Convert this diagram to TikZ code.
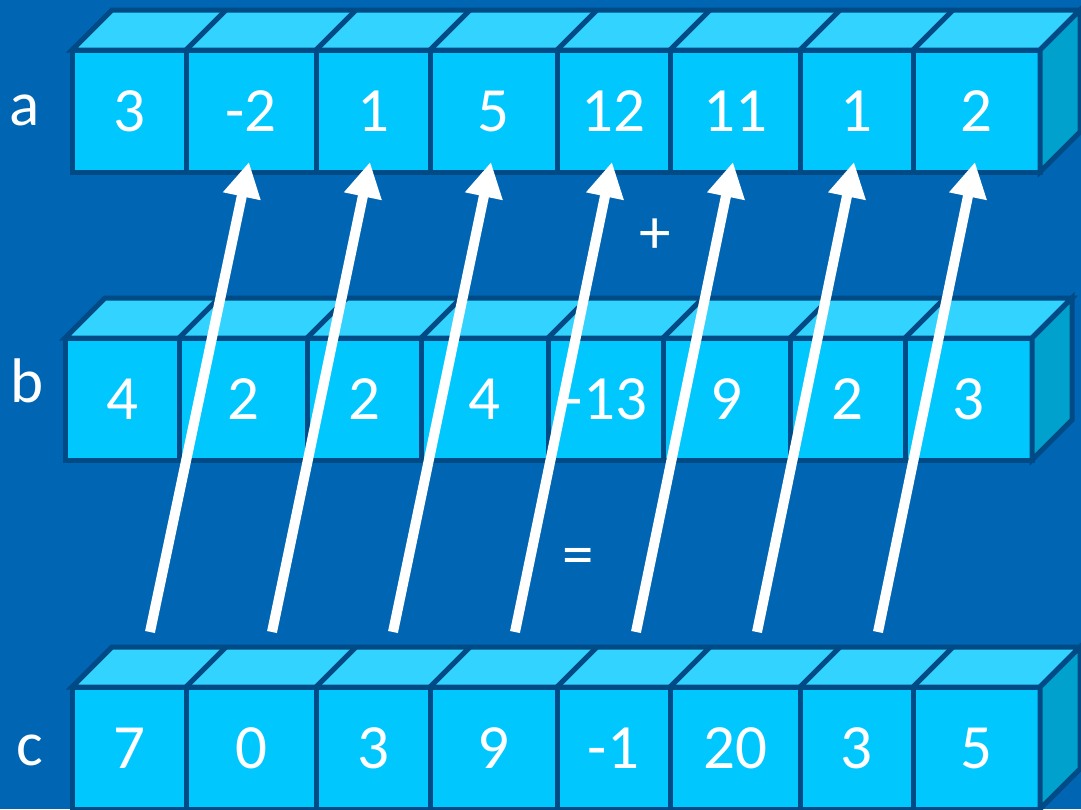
\documentclass[tikz,border=0pt]{standalone}
\usepackage{fontspec}
\setmainfont{Carlito}
\usetikzlibrary{arrows.meta,calc}
\definecolor{bg}{RGB}{0,102,179}
\definecolor{frontc}{RGB}{0,200,255}
\definecolor{topc}{RGB}{51,211,255}
\definecolor{sidec}{RGB}{0,161,204}
\definecolor{edgec}{RGB}{0,75,133}
\tikzset{
  cell/.style={draw=edgec, fill=frontc, line width=5pt, inner sep=0pt, outer sep=0pt,
    minimum height=122pt, text=white, font=\fontsize{63}{70}\selectfont, text depth=0pt},
  topface/.style={draw=edgec, fill=topc, line width=5pt, line join=miter},
  sideface/.style={draw=edgec, fill=sidec, line width=5pt, line join=miter},
  divline/.style={draw=edgec, line width=5pt},
  lbl/.style={text=white, font=\fontsize{63}{70}\selectfont, inner sep=0pt, anchor=base},
  arr/.style={draw=white, line width=10pt, -{Triangle[length=35pt,width=36pt]}},
}
\begin{document}
\begin{tikzpicture}[x=1pt,y=-1pt]
\useasboundingbox (0,0) rectangle (1081,809);
\fill[bg] (0,0) rectangle (1081,809);
% row a
\foreach \i/\xl/\xr/\v in {1/72/186/3,2/186/316/-2,3/316/430/1,4/430/557/5,5/557/670/12,6/670/800/11,7/800/913/1,8/913/1040/2}
  \node[cell, minimum width={\xr-\xl}] (a\i) at ({(\xl+\xr)/2},111) {\v};
\draw[topface] (a1.north west) -- ++(40,-40) -- ($(a8.north east)+(40,-40)$) -- (a8.north east) -- cycle;
\draw[sideface] (a8.north east) -- ++(40,-40) -- ++(0,122) -- (a8.south east) -- cycle;
\foreach \i in {1,...,7} \draw[divline] (a\i.north east) -- ++(40,-40);
% row b
\foreach \i/\xl/\xr/\v in {1/65/179/4,2/179/307/2,3/307/421/2,4/421/548/4,5/548/663/-13,6/663/790/9,7/790/905/2,8/905/1032/3}
  \node[cell, minimum width={\xr-\xl}] (b\i) at ({(\xl+\xr)/2},399) {\v};
\draw[topface] (b1.north west) -- ++(40,-40) -- ($(b8.north east)+(40,-40)$) -- (b8.north east) -- cycle;
\draw[sideface] (b8.north east) -- ++(40,-40) -- ++(0,122) -- (b8.south east) -- cycle;
\foreach \i in {1,...,7} \draw[divline] (b\i.north east) -- ++(40,-40);
% row c
\foreach \i/\xl/\xr/\v in {1/72/186/7,2/186/316/0,3/316/430/3,4/430/557/9,5/557/670/-1,6/670/800/20,7/800/913/3,8/913/1040/5}
  \node[cell, minimum width={\xr-\xl}] (c\i) at ({(\xl+\xr)/2},748) {\v};
\draw[topface] (c1.north west) -- ++(40,-40) -- ($(c8.north east)+(40,-40)$) -- (c8.north east) -- cycle;
\draw[sideface] (c8.north east) -- ++(40,-40) -- ++(0,122) -- (c8.south east) -- cycle;
\foreach \i in {1,...,7} \draw[divline] (c\i.north east) -- ++(40,-40);
% labels
\node[lbl] (la) at (25,125) {a};
\node[lbl] (lb) at (27,402) {b};
\node[lbl] (lc) at (30,765) {c};
\node[lbl] (plus) at (655,253) {+};
\node[lbl] (eq) at (578,575) {=};
% arrows
\foreach \k/\xs/\xe in {1/150/249,2/272/370,3/393/491,4/515/612,5/636/733,6/757/854,7/878/975}{
  \coordinate (s\k) at (\xs,632);
  \coordinate (e\k) at (\xe,162);
  \draw[arr] (s\k) -- (e\k);
}
\end{tikzpicture}
\end{document}
